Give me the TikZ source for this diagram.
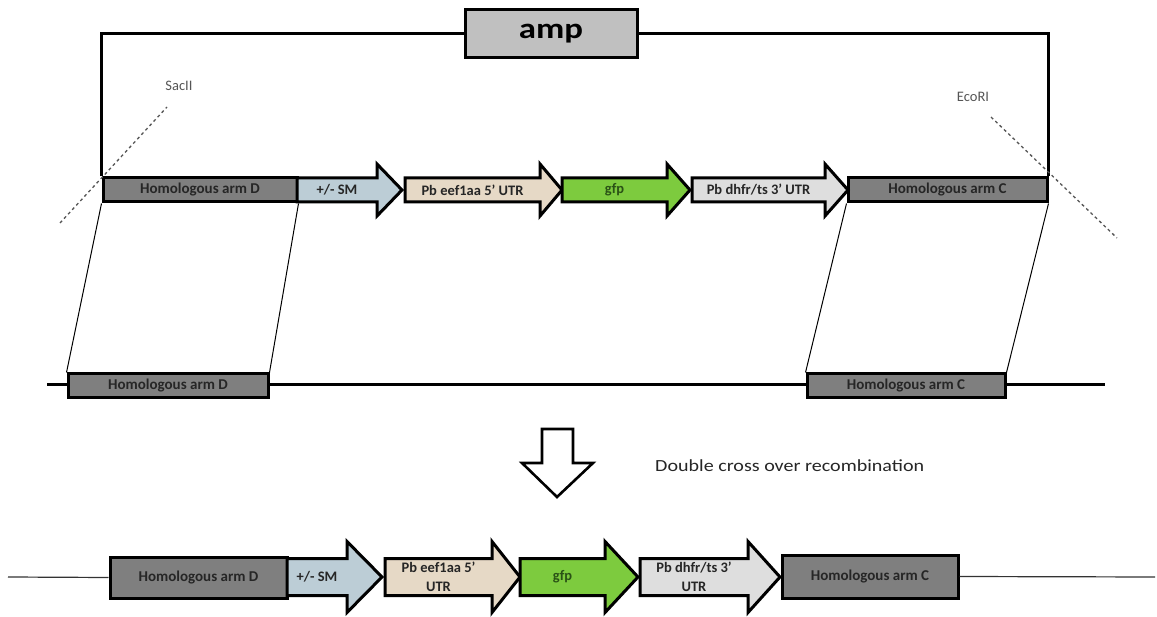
\documentclass[tikz,border=0pt]{standalone}
\usepackage{fontspec}
\setmainfont{Carlito}
\usetikzlibrary{positioning}
\definecolor{armgray}{HTML}{7F7F7F}
\definecolor{ampgray}{HTML}{C0C0C0}
\definecolor{smblue}{HTML}{BCCDD6}
\definecolor{beige}{HTML}{E6D9C6}
\definecolor{gfpgreen}{HTML}{7DCB3E}
\definecolor{dhfrgray}{HTML}{DEDEDE}
\definecolor{labeltext}{HTML}{262626}
\definecolor{gfptext}{HTML}{2A5216}
\definecolor{sitegray}{HTML}{555555}
\newcommand\GeneArrow[9]{%
  \draw[genebox,fill=#8] (#2,#5-#6) -- (#3,#5-#6) -- (#3,#5-#7) -- (#4,#5) -- (#3,#5+#7) -- (#3,#5+#6) -- (#2,#5+#6) -- cycle;
  \node[genelabel] (#1) at ({(#2+#3)/2},#5) {#9};
}
\begin{document}
\begin{tikzpicture}[x=1pt,y=-1pt,
  genebox/.style={draw=black,line width=3pt,line join=miter},
  genelabel/.style={inner sep=0pt,align=center,text=labeltext,font=\fontsize{14.5}{19}\selectfont\bfseries},
  armbox/.style={draw=black,line width=3pt,fill=armgray,inner sep=0pt,text=labeltext,font=\fontsize{15}{19}\selectfont\bfseries},
  backbone/.style={draw=black,line width=3pt},
  guide/.style={draw=black,line width=1pt},
  site/.style={draw=sitegray,line width=1.3pt,dash pattern=on 3pt off 3pt},
  sitelabel/.style={text=sitegray,font=\fontsize{14.5}{16}\selectfont,inner sep=0pt},
  chrom/.style={draw=black,line width=3pt},
  thinchrom/.style={draw=black!80,line width=1.2pt}]
\useasboundingbox[fill=white] (0,0) rectangle (1157,617);

% ---------- plasmid / construct ----------
\node[draw=black,line width=3pt,fill=ampgray,minimum width=172pt,minimum height=48pt,inner sep=0pt,
      font=\fontsize{29}{32}\selectfont\bfseries] (amp) at (551,34) {\scalebox{1.2}[1]{amp}};
\node[armbox,minimum width=194pt,minimum height=24pt] (armD) at (200,190) {Homologous arm D};
\node[armbox,minimum width=199pt,minimum height=24pt] (armC) at (947.5,190) {Homologous arm C};
\draw[backbone] (armD.north west) |- (amp.west);
\draw[backbone] (amp.east) -| (armC.north east);

\GeneArrow{sm}{297}{377}{402}{190}{12}{26}{smblue}{+/- SM}
\GeneArrow{eef}{405}{540}{562}{190}{12}{26}{beige}{Pb eef1aa 5’ UTR}
\GeneArrow{gfp}{562}{667}{690}{190}{12}{26}{gfpgreen}{\textcolor{gfptext}{gfp}}
\GeneArrow{dhfr}{692}{825}{848}{190}{12}{26}{dhfrgray}{Pb dhfr/ts 3’ UTR}

% restriction sites
\coordinate (sacA) at (60,223);
\coordinate (sacB) at (167,107);
\draw[site] (sacA) -- (sacB);
\node[sitelabel] (sac) at (179,86) {SacII};
\coordinate (ecoA) at (991,117);
\coordinate (ecoB) at (1117,238);
\draw[site] (ecoA) -- (ecoB);
\node[sitelabel] (eco) at (973,97) {EcoRI};

% ---------- chromosome ----------
\coordinate (chL) at (47,385);
\coordinate (chR) at (1105,385);
\draw[chrom] (chL) -- (chR);
\node[armbox,minimum width=200pt,minimum height=24pt] (larmD) at (168,386) {Homologous arm D};
\node[armbox,minimum width=198pt,minimum height=24pt] (larmC) at (906,386) {Homologous arm C};

\draw[guide] (armD.south west) -- (larmD.north west);
\draw[guide] (armD.south east) -- (larmD.north east);
\draw[guide] (armC.south west) -- (larmC.north west);
\draw[guide] (armC.south east) -- (larmC.north east);

% ---------- recombination arrow ----------
\draw[draw=black,line width=2.6pt,fill=white,line join=miter]
  (542,429) -- (573,429) -- (573,463) -- (593,463) -- (557,497) -- (522,463) -- (542,463) -- cycle;
\node[anchor=west,inner sep=0pt,text=labeltext,font=\fontsize{17}{20}\selectfont] (dco) at (655,466)
  {\scalebox{1.18}[1]{Double cross over recombination}};

% ---------- recombined locus ----------
\coordinate (bL) at (8,577);
\coordinate (bR) at (1155,577);
\node[armbox,minimum width=177pt,minimum height=41pt] (barmD) at (198.5,577.5) {Homologous arm D};
\node[armbox,minimum width=176pt,minimum height=43pt] (barmC) at (870,576.5) {Homologous arm C};
\draw[thinchrom] (bL) -- (barmD.west);
\draw[thinchrom] (barmC.east) -- (bR);

\GeneArrow{bsm}{287}{347}{382}{577}{18.5}{35.5}{smblue}{+/- SM}
\GeneArrow{beef}{385}{492}{520}{577}{18.5}{35.5}{beige}{Pb eef1aa 5’\\UTR}
\GeneArrow{bgfp}{520}{605}{638}{577}{18.5}{35.5}{gfpgreen}{\textcolor{gfptext}{gfp}}
\GeneArrow{bdhfr}{640}{748}{780}{577}{18.5}{35.5}{dhfrgray}{Pb dhfr/ts 3’\\UTR}
\end{tikzpicture}
\end{document}
